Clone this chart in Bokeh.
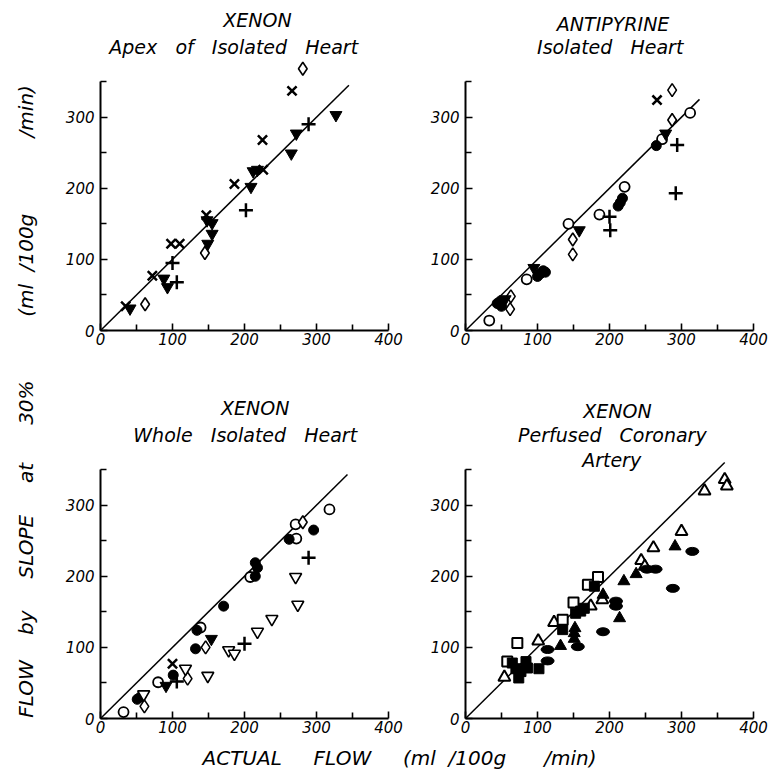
from math import pi
from bokeh.plotting import figure
from bokeh.models import Range1d, FixedTicker, Label
from bokeh.layouts import row, column
from bokeh.embed import file_html
from bokeh.resources import INLINE

# ---------------- data ----------------
x_ticks = [0, 100, 200, 300, 400]
x_minor = [50, 150, 250, 350]
y_ticks = [0, 100, 200, 300]
y_minor = [50, 150, 250, 350]

# Panel 1: XENON, apex of isolated heart
apex_x_mark_x = [35, 72, 98, 110, 147, 186, 226, 225, 266]
apex_x_mark_y = [34, 77, 122, 122, 162, 206, 226, 268, 337]
apex_plus_x = [100, 106, 202, 289]
apex_plus_y = [95, 68, 169, 290]
apex_diamond_x = [62, 145, 281]
apex_diamond_y = [37, 109, 368]
apex_down_x = [41, 88, 93, 148, 155, 155, 149, 209, 212, 218, 265, 272, 327]
apex_down_y = [31, 73, 61, 155, 151, 136, 122, 202, 224, 226, 249, 277, 303]
apex_line_end = 345

# Panel 2: ANTIPYRINE, isolated heart
anti_open_x = [33, 85, 143, 186, 221, 273, 312]
anti_open_y = [14, 72, 150, 163, 202, 269, 306]
anti_filled_x = [44, 50, 48, 100, 104, 108, 111, 212, 215, 218, 265]
anti_filled_y = [38, 34, 41, 76, 80, 84, 82, 175, 180, 186, 260]
anti_diamond_x = [63, 62, 149, 149, 287, 287]
anti_diamond_y = [48, 30, 128, 107, 296, 338]
anti_down_x = [55, 95, 158, 278]
anti_down_y = [44, 88, 141, 277]
anti_x_mark_x = [266]
anti_x_mark_y = [324]
anti_plus_x = [294, 292, 200, 201]
anti_plus_y = [261, 193, 160, 141]
anti_line_end = 325

# Panel 3: XENON, whole isolated heart
whole_open_x = [32, 80, 139, 208, 271, 272, 318]
whole_open_y = [9, 51, 128, 199, 273, 253, 294]
whole_filled_x = [51, 55, 101, 132, 134, 171, 215, 218, 215, 262, 296]
whole_filled_y = [27, 30, 61, 98, 124, 158, 219, 212, 200, 252, 265]
whole_diamond_x = [61, 121, 146, 281]
whole_diamond_y = [17, 56, 100, 276]
whole_open_down_x = [60, 118, 149, 178, 186, 218, 238, 271, 274]
whole_open_down_y = [34, 70, 60, 96, 91, 122, 140, 199, 160]
whole_down_x = [91, 154]
whole_down_y = [46, 112]
whole_x_mark_x = [100]
whole_x_mark_y = [77]
whole_plus_x = [106, 200, 289]
whole_plus_y = [52, 105, 226]
whole_line_end = 343

# Panel 4: XENON, perfused coronary artery
perf_open_up_x = [54, 101, 123, 174, 190, 244, 249, 261, 300, 332, 360, 363]
perf_open_up_y = [58, 109, 135, 158, 167, 222, 214, 240, 263, 320, 336, 327]
perf_open_sq_x = [58, 72, 135, 150, 170, 184]
perf_open_sq_y = [80, 106, 139, 163, 188, 199]
perf_filled_sq_x = [65, 77, 84, 74, 86, 70, 102, 135, 153, 160, 165, 179]
perf_filled_sq_y = [78, 66, 80, 57, 71, 70, 70, 125, 148, 151, 155, 186]
perf_filled_up_x = [132, 151, 151, 152, 191, 214, 220, 237, 291]
perf_filled_up_y = [102, 112, 120, 127, 174, 141, 193, 203, 242]
perf_ellipse_x = [114, 114, 156, 191, 209, 209, 252, 264, 288, 315]
perf_ellipse_y = [81, 97, 101, 122, 165, 158, 210, 210, 183, 235]
perf_line_end = 360

FONT = "DejaVu Sans"
NB = "\u00a0"


def styled(p):
    p.outline_line_color = None
    p.grid.visible = False
    p.background_fill_color = "white"
    p.border_fill_color = "white"
    for ax in (p.xaxis[0], p.yaxis[0]):
        ax.axis_line_width = 2
        ax.axis_line_color = "black"
        ax.major_tick_in = 7
        ax.major_tick_out = 0
        ax.minor_tick_in = 6
        ax.minor_tick_out = 0
        ax.major_tick_line_width = 1.6
        ax.minor_tick_line_width = 1.6
        ax.major_tick_line_color = "black"
        ax.minor_tick_line_color = "black"
        ax.major_label_text_font = FONT
        ax.major_label_text_font_style = "italic"
        ax.major_label_text_font_size = "15px"
        ax.major_label_text_color = "black"
    p.xaxis[0].ticker = FixedTicker(ticks=x_ticks, minor_ticks=x_minor)
    p.yaxis[0].ticker = FixedTicker(ticks=y_ticks, minor_ticks=y_minor)
    p.yaxis[0].bounds = (0, 350)
    p.xaxis[0].major_label_standoff = 2
    p.yaxis[0].major_label_standoff = 6


def panel(left, right, top, bottom, titles, line_end):
    p = figure(frame_width=288, frame_height=320,
               x_range=Range1d(0, 400), y_range=Range1d(0, 450),
               toolbar_location=None, output_backend="svg",
               min_border_left=left, min_border_right=right,
               min_border_top=top, min_border_bottom=bottom)
    styled(p)
    p.line([0, line_end], [0, line_end], line_color="black", line_width=1.5)
    for tx, ty, txt in titles:
        p.add_layout(Label(x=tx, y=ty, text=txt, text_align="center",
                           text_baseline="middle", text_font=FONT,
                           text_font_style="italic", text_font_size="19px",
                           text_color="black"))
    return p


def open_pts(p, xs, ys, marker, size, lw=1.8):
    p.scatter(xs, ys, marker=marker, size=size, fill_color="white",
              line_color="black", line_width=lw)


def filled_pts(p, xs, ys, marker, size):
    p.scatter(xs, ys, marker=marker, size=size, fill_color="black",
              line_color="black", line_width=1)


def line_pts(p, xs, ys, marker, size, lw=2.5):
    p.scatter(xs, ys, marker=marker, size=size, line_color="black", line_width=lw)


sp = NB * 3
# Panel 1
p1 = panel(52, 30, 10, 40,
           [(218, 436, "XENON"), (185, 398, "Apex" + sp + "of" + sp + "Isolated" + sp + "Heart")],
           apex_line_end)
line_pts(p1, apex_x_mark_x, apex_x_mark_y, "x", 13)
line_pts(p1, apex_plus_x, apex_plus_y, "cross", 14)
open_pts(p1, apex_diamond_x, apex_diamond_y, "diamond", 13, 1.6)
filled_pts(p1, apex_down_x, apex_down_y, "inverted_triangle", 12)

# Panel 2
p2 = panel(47, 15, 10, 40,
           [(205, 431, "ANTIPYRINE"), (201, 399, "Isolated" + sp + "Heart")],
           anti_line_end)
open_pts(p2, anti_open_x, anti_open_y, "circle", 10)
filled_pts(p2, anti_filled_x, anti_filled_y, "circle", 10)
open_pts(p2, anti_diamond_x, anti_diamond_y, "diamond", 13, 1.6)
filled_pts(p2, anti_down_x, anti_down_y, "inverted_triangle", 12)
line_pts(p2, anti_x_mark_x, anti_x_mark_y, "x", 13)
line_pts(p2, anti_plus_x, anti_plus_y, "cross", 14)

# Panel 3
p3 = panel(52, 30, 28, 22,
           [(215, 436, "XENON"), (201, 399, "Whole" + sp + "Isolated" + sp + "Heart")],
           whole_line_end)
open_pts(p3, whole_open_x, whole_open_y, "circle", 10)
filled_pts(p3, whole_filled_x, whole_filled_y, "circle", 10)
open_pts(p3, whole_diamond_x, whole_diamond_y, "diamond", 13, 1.6)
open_pts(p3, whole_open_down_x, whole_open_down_y, "inverted_triangle", 12, 1.6)
filled_pts(p3, whole_down_x, whole_down_y, "inverted_triangle", 12)
line_pts(p3, whole_x_mark_x, whole_x_mark_y, "x", 13)
line_pts(p3, whole_plus_x, whole_plus_y, "cross", 14)

# Panel 4
p4 = panel(47, 15, 28, 22,
           [(211, 433, "XENON"), (204, 398, "Perfused" + sp + "Coronary"), (203, 364, "Artery")],
           perf_line_end)
open_pts(p4, perf_open_up_x, perf_open_up_y, "triangle", 12, 2)
open_pts(p4, perf_open_sq_x, perf_open_sq_y, "square", 10, 2)
filled_pts(p4, perf_filled_sq_x, perf_filled_sq_y, "square", 10)
filled_pts(p4, perf_filled_up_x, perf_filled_up_y, "triangle", 12)
p4.ellipse(perf_ellipse_x, perf_ellipse_y, width=13, height=8,
           width_units="screen", height_units="screen",
           fill_color="black", line_color="black")

# Shared axis labels
ylab = figure(width=48, height=740, x_range=Range1d(0, 1), y_range=Range1d(0, 1),
              toolbar_location=None, output_backend="svg", min_border=0,
              x_axis_type=None, y_axis_type=None, outline_line_color=None)
ylab.grid.visible = False
ytext = ("FLOW" + NB * 4 + "by" + NB * 5 + "SLOPE" + NB * 5 + "at" + NB * 6 + "30%"
         + NB * 10 + "(ml" + NB * 2 + "/100g" + NB * 12 + "/min)")
ylab.add_layout(Label(x=25, y=339, x_units="screen", y_units="screen", angle=pi / 2,
                      text=ytext, text_align="center", text_baseline="middle",
                      text_font=FONT, text_font_style="italic", text_font_size="20px",
                      text_color="black"))

xlab = figure(width=768, height=33, x_range=Range1d(0, 1), y_range=Range1d(0, 1),
              toolbar_location=None, output_backend="svg", min_border=0,
              x_axis_type=None, y_axis_type=None, outline_line_color=None)
xlab.grid.visible = False
xtext = "ACTUAL" + NB * 5 + "FLOW" + NB * 5 + "(ml" + NB * 2 + "/100g" + NB * 6 + "/min)"
xlab.add_layout(Label(x=399, y=16, x_units="screen", y_units="screen",
                      text=xtext, text_align="center", text_baseline="middle",
                      text_font=FONT, text_font_style="italic", text_font_size="20px",
                      text_color="black"))

layout = column(row(ylab, column(row(p1, p2), row(p3, p4))), xlab)

with open("out.html", "w") as f:
    f.write(file_html(layout, INLINE))
